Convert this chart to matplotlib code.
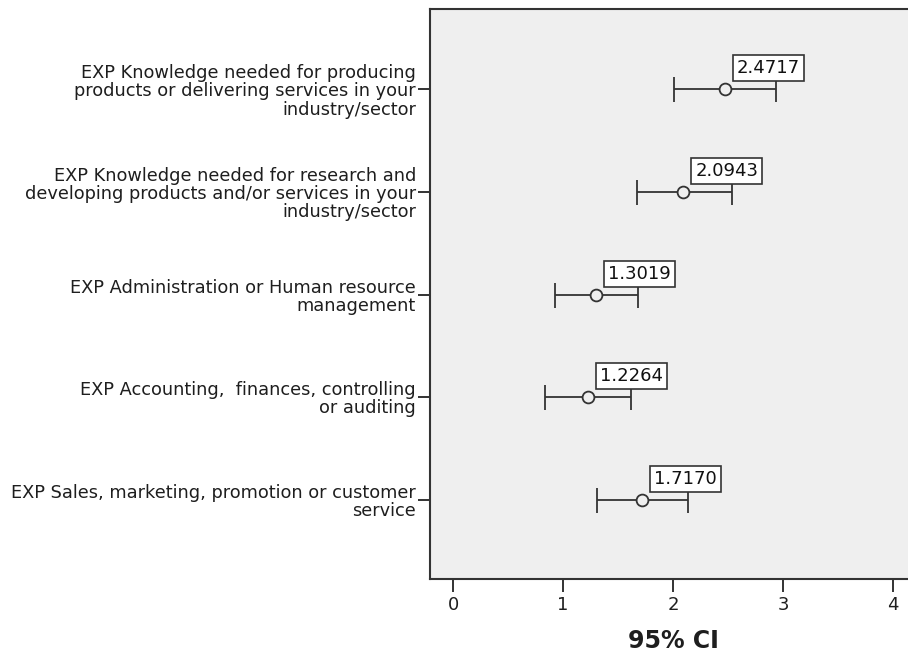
import matplotlib
matplotlib.use("Agg")
import matplotlib.pyplot as plt
import numpy as np

plt.rcParams['font.family'] = ['DejaVu Sans']

categories = [
    "EXP Knowledge needed for producing\nproducts or delivering services in your\nindustry/sector",
    "EXP Knowledge needed for research and\ndeveloping products and/or services in your\nindustry/sector",
    "EXP Administration or Human resource\nmanagement",
    "EXP Accounting,  finances, controlling\nor auditing",
    "EXP Sales, marketing, promotion or customer\nservice",
]
means = [2.4717, 2.0943, 1.3019, 1.2264, 1.7170]
ci_lower = [2.01, 1.67, 0.93, 0.84, 1.31]
ci_upper = [2.94, 2.54, 1.68, 1.62, 2.14]
x_ticks = [0, 1, 2, 3, 4]

bg = '#efefef'
ink = '#333333'

fig = plt.figure(figsize=(9.08, 6.58), dpi=100)
ax = fig.add_axes([430 / 908, 79 / 658, 486 / 908, 570 / 658])
ax.set_facecolor(bg)

m = np.array(means)
lo = np.array(ci_lower)
hi = np.array(ci_upper)
y = np.arange(len(categories))

ax.errorbar(m, y, xerr=[m - lo, hi - m], fmt='none', ecolor=ink,
            elinewidth=1.3, capsize=9, capthick=1.3, zorder=2)
ax.plot(m, y, linestyle='none', marker='o', markersize=8.5,
        markerfacecolor=bg, markeredgecolor=ink, markeredgewidth=1.3, zorder=3)

for xi, yi in zip(m, y):
    ax.annotate(f"{xi:.4f}", xy=(xi, yi), xytext=(8.6, 8.6),
                textcoords='offset points', ha='left', va='bottom',
                fontsize=13, color='#111111', zorder=5,
                bbox=dict(boxstyle='square,pad=0.22', facecolor='white',
                          edgecolor=ink, linewidth=1.2))

ax.set_xlim(-0.21, 4.21)
ax.set_ylim(4.77, -0.78)
ax.set_xticks(x_ticks)
ax.set_xticklabels([str(t) for t in x_ticks])
ax.set_yticks(y)
ax.set_yticklabels(categories, fontsize=12.8, color='#1e1e1e', linespacing=1.02)
ax.tick_params(axis='x', length=9, width=1.4, color=ink, labelsize=13,
               labelcolor='#1e1e1e', pad=3)
ax.tick_params(axis='y', length=9, width=1.4, color=ink, pad=1)

for s in ax.spines.values():
    s.set_color(ink)
    s.set_linewidth(1.5)

ax.set_xlabel("95% CI", fontsize=17, fontweight='bold', color='#1e1e1e',
              labelpad=11)

fig.savefig("out.png", dpi=100)
